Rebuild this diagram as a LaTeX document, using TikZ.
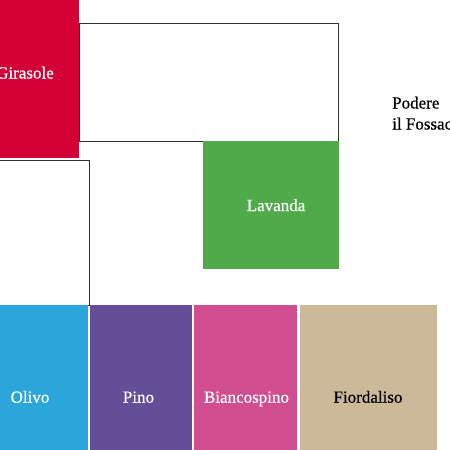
\documentclass[tikz,border=0pt]{standalone}
\usepackage{fontspec}
\setmainfont{Liberation Serif}[FakeBold=0.6]
\definecolor{cgirasole}{RGB}{210,0,54}
\definecolor{clavanda}{RGB}{80,170,74}
\definecolor{colivo}{RGB}{44,165,218}
\definecolor{cpino}{RGB}{101,78,152}
\definecolor{cbianco}{RGB}{208,78,143}
\definecolor{cfiorda}{RGB}{203,185,154}
\definecolor{cline}{RGB}{50,50,50}
\begin{document}
\begin{tikzpicture}[x=1pt,y=-1pt,
  plotbox/.style={rectangle, inner sep=0pt, draw=none},
  lbl/.style={inner sep=0pt, anchor=base, font=\fontsize{17}{20}\selectfont, text=white},
  outline/.style={draw=cline, line width=0.9pt}]
\useasboundingbox (0,0) rectangle (450,450);
\clip (0,0) rectangle (450,450);
% open outlines
\draw[outline] (79,23.5) rectangle (338.5,141);
\draw[outline] (-30,160.5) rectangle (89.5,305);
% coloured plots
\node[plotbox, fill=cgirasole, minimum width=109pt, minimum height=170pt, anchor=north west] (girasole) at (-30,-12) {};
\node[plotbox, fill=clavanda, minimum width=136pt, minimum height=128pt, anchor=north west] (lavanda) at (203,141) {};
\node[plotbox, fill=colivo, minimum width=118pt, minimum height=170pt, anchor=north west] (olivo) at (-30,305) {};
\node[plotbox, fill=cpino, minimum width=102pt, minimum height=170pt, anchor=north west] (pino) at (90,305) {};
\node[plotbox, fill=cbianco, minimum width=103pt, minimum height=170pt, anchor=north west] (bianco) at (194,305) {};
\node[plotbox, fill=cfiorda, minimum width=137pt, minimum height=170pt, anchor=north west] (fiorda) at (300,305) {};
% labels
\node[lbl] (tgirasole) at (25,78.5) {Girasole};
\node[lbl] (tlavanda) at (276,211) {Lavanda};
\node[lbl] (tolivo) at (30,402.7) {Olivo};
\node[lbl] (tpino) at (138.5,402.7) {Pino};
\node[lbl] (tbianco) at (246.5,402.7) {Biancospino};
\node[lbl, text=black] (tfiorda) at (368,402.7) {Fiordaliso};
\node[lbl, text=black, anchor=base west] (tpodere) at (392,108.5) {Podere};
\node[lbl, text=black, anchor=base west] (tfossac) at (392,129.5) {il Fossac};
\end{tikzpicture}
\end{document}
